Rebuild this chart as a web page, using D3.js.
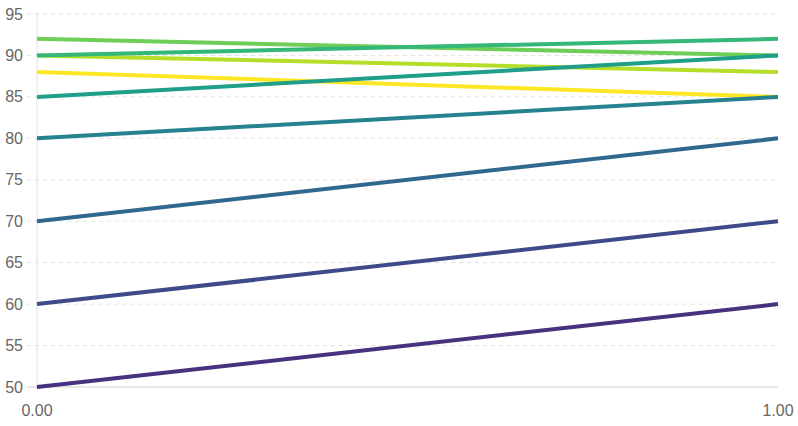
<!DOCTYPE html>
<html>
<head>
<meta charset="utf-8">
<script src="https://cdn.jsdelivr.net/npm/d3@7"></script>
<style>
  body { margin: 0; background: #fff; }
  text { font-family: "Liberation Sans", Arial, sans-serif; }
</style>
</head>
<body>
<div id="chart"></div>
<script>
// each series goes from x = 0 to x = 1
const xValues = [0, 1];
const startValues = [50, 60, 70, 80, 85, 90, 92, 90, 88];
const endValues = [60, 70, 80, 85, 90, 92, 90, 88, 85];
const colors = ["#46327e", "#3e4a89", "#31688e", "#26828e", "#1f9e89", "#35b779", "#6ece58", "#b5de2b", "#fde725"];
const yTicks = [50, 55, 60, 65, 70, 75, 80, 85, 90, 95];
const xTicks = [0, 1];

const width = 798, height = 426;
const margin = { top: 14, right: 20, bottom: 39, left: 37 };

const svg = d3.select("#chart").append("svg")
    .attr("width", width)
    .attr("height", height);

const x = d3.scaleLinear().domain([0, 1]).range([margin.left, width - margin.right]);
const y = d3.scaleLinear().domain([50, 95]).range([height - margin.bottom, margin.top]);

// horizontal grid
svg.append("g")
    .selectAll("line")
    .data(yTicks)
    .join("line")
    .attr("x1", margin.left - 10)
    .attr("x2", width - margin.right)
    .attr("y1", d => y(d))
    .attr("y2", d => y(d))
    .attr("stroke", d => d === 50 ? "#d0d0d0" : "#e2e2e2")
    .attr("stroke-width", 1)
    .attr("stroke-dasharray", d => d === 50 ? null : "4,4");

// y axis line
svg.append("line")
    .attr("x1", margin.left).attr("x2", margin.left)
    .attr("y1", y(95)).attr("y2", y(50))
    .attr("stroke", "#e2e2e2");

// y labels
svg.append("g")
    .selectAll("text")
    .data(yTicks)
    .join("text")
    .attr("x", margin.left - 14)
    .attr("y", d => y(d))
    .attr("dy", "0.35em")
    .attr("text-anchor", "end")
    .attr("font-size", 16)
    .attr("fill", "#666")
    .text(d => d);

// x labels
svg.append("g")
    .selectAll("text")
    .data(xTicks)
    .join("text")
    .attr("x", d => x(d))
    .attr("y", height - margin.bottom + 29)
    .attr("text-anchor", "middle")
    .attr("font-size", 16)
    .attr("fill", "#666")
    .text(d => d3.format(".2f")(d));

const line = d3.line()
    .x(d => x(d[0]))
    .y(d => y(d[1]));

const series = startValues.map((s, i) => ({
    color: colors[i],
    points: [[xValues[0], s], [xValues[1], endValues[i]]]
}));

// first series ends up on top
svg.append("g")
    .selectAll("path")
    .data(series.slice().reverse())
    .join("path")
    .attr("d", d => line(d.points))
    .attr("fill", "none")
    .attr("stroke", d => d.color)
    .attr("stroke-width", 4);
</script>
</body>
</html>
